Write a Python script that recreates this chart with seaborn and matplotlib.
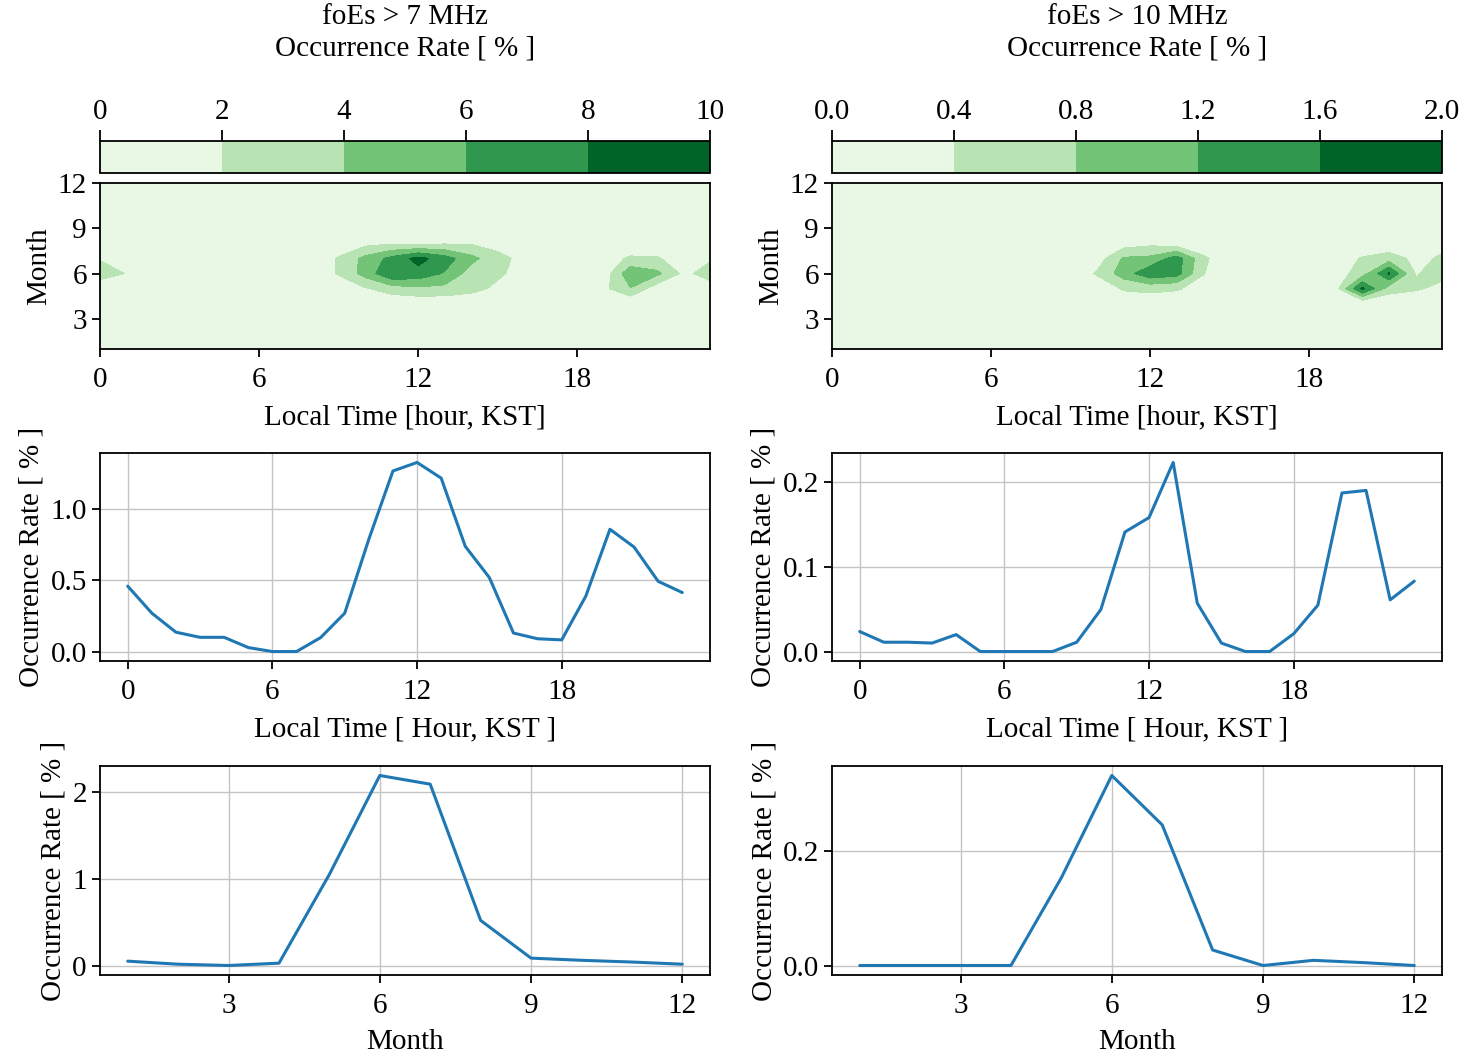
import matplotlib
matplotlib.use("Agg")
import matplotlib.pyplot as plt
import seaborn as sns
import numpy as np

# 축 값
hours = list(range(24))
months = list(range(1, 13))

# foEs > 7 MHz, month x hour occurrence rate [%] (rows = month 1..12, cols = hour 0..23)
rate_7mhz_grid = [
    [0.3, 0.2, 0.1, 0.0, 0.0, 0.0, 0.0, 0.0, 0.0, 0.1, 0.2, 0.3, 0.3, 0.2, 0.2, 0.1, 0.0, 0.0, 0.0, 0.1, 0.2, 0.2, 0.2, 0.2],
    [0.2, 0.1, 0.0, 0.0, 0.0, 0.0, 0.0, 0.0, 0.0, 0.0, 0.1, 0.2, 0.2, 0.2, 0.1, 0.0, 0.0, 0.0, 0.0, 0.0, 0.1, 0.1, 0.1, 0.1],
    [0.1, 0.0, 0.0, 0.0, 0.0, 0.0, 0.0, 0.0, 0.0, 0.0, 0.1, 0.1, 0.1, 0.1, 0.1, 0.0, 0.0, 0.0, 0.0, 0.0, 0.0, 0.1, 0.1, 0.1],
    [0.2, 0.1, 0.0, 0.0, 0.0, 0.0, 0.0, 0.0, 0.0, 0.1, 0.5, 0.4, 0.4, 0.5, 0.6, 0.3, 0.1, 0.0, 0.0, 0.1, 0.1, 0.2, 0.2, 0.2],
    [1.1, 0.6, 0.2, 0.1, 0.1, 0.0, 0.0, 0.0, 0.2, 0.6, 1.8, 3.0, 3.6, 3.4, 2.6, 1.6, 0.5, 0.1, 0.1, 1.5, 3.9, 0.8, 0.6, 1.2],
    [2.6, 1.95, 0.5, 0.4, 0.4, 0.1, 0.0, 0.1, 0.4, 2.2, 4.8, 7.8, 7.3, 5.8, 3.0, 2.3, 1.3, 0.4, 0.3, 0.8, 5.5, 4.5, 1.56, 2.7],
    [1.9, 0.8, 0.3, 0.2, 0.2, 0.1, 0.0, 0.0, 0.4, 2.2, 4.6, 6.6, 8.7, 6.95, 4.6, 2.6, 1.4, 0.5, 0.4, 1.0, 2.3, 2.2, 1.0, 1.8],
    [0.6, 0.3, 0.1, 0.0, 0.0, 0.0, 0.0, 0.0, 0.2, 0.6, 1.4, 1.8, 1.5, 1.8, 1.8, 1.3, 0.6, 0.2, 0.2, 0.3, 0.5, 0.6, 0.4, 0.5],
    [0.2, 0.1, 0.0, 0.0, 0.0, 0.0, 0.0, 0.0, 0.0, 0.1, 0.2, 0.3, 0.3, 0.3, 0.2, 0.1, 0.0, 0.0, 0.0, 0.1, 0.1, 0.1, 0.1, 0.1],
    [0.1, 0.0, 0.0, 0.0, 0.0, 0.0, 0.0, 0.0, 0.0, 0.0, 0.1, 0.2, 0.2, 0.1, 0.1, 0.0, 0.0, 0.0, 0.0, 0.0, 0.1, 0.1, 0.1, 0.1],
    [0.1, 0.0, 0.0, 0.0, 0.0, 0.0, 0.0, 0.0, 0.0, 0.0, 0.1, 0.1, 0.1, 0.1, 0.0, 0.0, 0.0, 0.0, 0.0, 0.0, 0.0, 0.1, 0.1, 0.1],
    [0.1, 0.0, 0.0, 0.0, 0.0, 0.0, 0.0, 0.0, 0.0, 0.0, 0.0, 0.1, 0.1, 0.1, 0.0, 0.0, 0.0, 0.0, 0.0, 0.0, 0.0, 0.0, 0.1, 0.1],
]

# foEs > 10 MHz
rate_10mhz_grid = [
    [0.02, 0.0, 0.0, 0.0, 0.0, 0.0, 0.0, 0.0, 0.0, 0.0, 0.0, 0.0, 0.0, 0.0, 0.0, 0.0, 0.0, 0.0, 0.0, 0.0, 0.0, 0.0, 0.0, 0.0],
    [0.0, 0.0, 0.0, 0.0, 0.0, 0.0, 0.0, 0.0, 0.0, 0.0, 0.0, 0.0, 0.0, 0.0, 0.0, 0.0, 0.0, 0.0, 0.0, 0.0, 0.0, 0.0, 0.0, 0.0],
    [0.0, 0.0, 0.0, 0.0, 0.0, 0.0, 0.0, 0.0, 0.0, 0.0, 0.0, 0.0, 0.0, 0.0, 0.0, 0.0, 0.0, 0.0, 0.0, 0.0, 0.0, 0.0, 0.0, 0.0],
    [0.0, 0.0, 0.0, 0.0, 0.0, 0.0, 0.0, 0.0, 0.0, 0.0, 0.05, 0.1, 0.15, 0.1, 0.05, 0.0, 0.0, 0.0, 0.0, 0.05, 0.0, 0.05, 0.1, 0.1],
    [0.05, 0.0, 0.0, 0.0, 0.0, 0.0, 0.0, 0.0, 0.0, 0.02, 0.1, 0.45, 0.5, 0.45, 0.2, 0.05, 0.0, 0.0, 0.05, 0.26, 1.7, 0.6, 0.45, 0.3],
    [0.1, 0.05, 0.05, 0.05, 0.1, 0.0, 0.0, 0.0, 0.0, 0.05, 0.45, 1.0, 1.5, 1.35, 0.42, 0.05, 0.0, 0.0, 0.05, 0.2, 0.6, 1.65, 0.38, 0.5],
    [0.1, 0.05, 0.05, 0.05, 0.1, 0.0, 0.0, 0.0, 0.0, 0.02, 0.2, 0.85, 0.9, 1.4, 0.5, 0.05, 0.0, 0.0, 0.05, 0.1, 0.45, 0.6, 0.3, 0.45],
    [0.05, 0.0, 0.0, 0.0, 0.0, 0.0, 0.0, 0.0, 0.0, 0.0, 0.05, 0.2, 0.3, 0.15, 0.05, 0.0, 0.0, 0.0, 0.0, 0.05, 0.0, 0.1, 0.1, 0.3],
    [0.0, 0.0, 0.0, 0.0, 0.0, 0.0, 0.0, 0.0, 0.0, 0.0, 0.0, 0.0, 0.0, 0.0, 0.0, 0.0, 0.0, 0.0, 0.0, 0.0, 0.0, 0.0, 0.0, 0.0],
    [0.0, 0.0, 0.0, 0.0, 0.0, 0.0, 0.0, 0.0, 0.0, 0.0, 0.0, 0.0, 0.0, 0.0, 0.0, 0.0, 0.0, 0.0, 0.0, 0.0, 0.0, 0.0, 0.0, 0.0],
    [0.0, 0.0, 0.0, 0.0, 0.0, 0.0, 0.0, 0.0, 0.0, 0.0, 0.0, 0.0, 0.0, 0.0, 0.0, 0.0, 0.0, 0.0, 0.0, 0.0, 0.0, 0.0, 0.0, 0.0],
    [0.0, 0.0, 0.0, 0.0, 0.0, 0.0, 0.0, 0.0, 0.0, 0.0, 0.0, 0.0, 0.0, 0.0, 0.0, 0.0, 0.0, 0.0, 0.0, 0.0, 0.0, 0.0, 0.0, 0.0],
]

# 시간별 / 월별 평균 발생률
hour_rate_7mhz = [0.46, 0.27, 0.136, 0.10, 0.10, 0.028, 0.0, 0.0, 0.098, 0.27, 0.79, 1.27,
                  1.33, 1.22, 0.74, 0.52, 0.13, 0.09, 0.082, 0.39, 0.86, 0.735, 0.494, 0.415]
hour_rate_10mhz = [0.0236, 0.011, 0.011, 0.010, 0.020, 0.0, 0.0, 0.0, 0.0, 0.011, 0.0495, 0.141,
                   0.158, 0.223, 0.057, 0.010, 0.0, 0.0, 0.021, 0.0546, 0.187, 0.19, 0.061, 0.083]
month_rate_7mhz = [0.05, 0.015, 0.0, 0.027, 1.05, 2.19, 2.09, 0.52, 0.085, 0.06, 0.04, 0.015]
month_rate_10mhz = [0.0, 0.0, 0.0, 0.0, 0.153, 0.331, 0.245, 0.027, 0.0, 0.009, 0.005, 0.0]

levels_7mhz = [0, 2, 4, 6, 8, 10]
levels_10mhz = [0.0, 0.4, 0.8, 1.2, 1.6, 2.0]

titles = ["foEs > 7 MHz", "foEs > 10 MHz"]

sns.set_theme(style="ticks")
plt.rcParams['font.family'] = ['Liberation Serif', 'DejaVu Serif']
plt.rcParams['font.size'] = 21
plt.rcParams['axes.edgecolor'] = 'black'
plt.rcParams['axes.linewidth'] = 1.3
plt.rcParams['xtick.color'] = 'black'
plt.rcParams['ytick.color'] = 'black'
plt.rcParams['text.color'] = 'black'
plt.rcParams['axes.labelcolor'] = 'black'

FS = 21
fig = plt.figure(figsize=(14.61, 10.56), dpi=100)
W, H = 1461.0, 1056.0


def px_axes(x0, y0, x1, y1):
    return fig.add_axes([x0 / W, 1 - y1 / H, (x1 - x0) / W, (y1 - y0) / H])


cmap = sns.color_palette("Greens", as_cmap=True)
col_x = [(100, 710), (832, 1442)]
grids = [rate_7mhz_grid, rate_10mhz_grid]
level_sets = [levels_7mhz, levels_10mhz]
hour_sets = [hour_rate_7mhz, hour_rate_10mhz]
month_sets = [month_rate_7mhz, month_rate_10mhz]
hour_yticks = [[0.0, 0.5, 1.0], [0.0, 0.1, 0.2]]
month_yticks = [[0, 1, 2], [0.0, 0.2]]
month_fmt = ['{:.0f}', '{:.1f}']

for i in range(2):
    x0, x1 = col_x[i]
    cx = (x0 + x1) / 2

    fig.text(cx / W, 1 - 17 / H, titles[i], ha='center', va='center', fontsize=FS)
    fig.text(cx / W, 1 - 48 / H, "Occurrence Rate [ % ]", ha='center', va='center', fontsize=FS)

    # contour map
    ax = px_axes(x0, 183, x1, 349)
    cs = ax.contourf(hours, months, np.array(grids[i]), levels=level_sets[i], cmap=cmap)
    ax.set_xlim(0, 23)
    ax.set_ylim(1, 12)
    ax.set_xticks([0, 6, 12, 18])
    ax.set_yticks([3, 6, 9, 12])
    ax.set_xlabel("Local Time [hour, KST]", fontsize=FS, labelpad=8)
    ax.set_ylabel("Month", fontsize=FS)
    ax.tick_params(direction='out', length=6, width=1.3, labelsize=FS)
    ax.tick_params(axis='x', pad=7)

    cax = px_axes(x0, 141, x1, 173)
    cb = fig.colorbar(cs, cax=cax, orientation='horizontal', ticks=level_sets[i])
    cax.xaxis.set_ticks_position('top')
    cax.tick_params(direction='out', length=8, width=1.3, labelsize=FS)
    cb.outline.set_linewidth(1.3)
    cb.outline.set_edgecolor('black')

    # hourly profile
    ax2 = px_axes(x0, 453, x1, 661)
    sns.lineplot(x=hours, y=hour_sets[i], ax=ax2, color='#1f77b4', linewidth=2.2)
    ax2.set_xticks([0, 6, 12, 18])
    ax2.set_yticks(hour_yticks[i])
    ax2.set_yticklabels(['{:.1f}'.format(v) for v in hour_yticks[i]])
    ax2.grid(True, color='#c4c4c4', linewidth=1.0)
    ax2.set_xlabel("Local Time [ Hour, KST ]", fontsize=FS, labelpad=8)
    ax2.set_ylabel("Occurrence Rate [ % ]", fontsize=FS)
    ax2.tick_params(direction='out', length=6, width=1.3, labelsize=FS)
    ax2.tick_params(axis='x', pad=7)

    # monthly profile
    ax3 = px_axes(x0, 766, x1, 975)
    sns.lineplot(x=months, y=month_sets[i], ax=ax3, color='#1f77b4', linewidth=2.2)
    ax3.set_xticks([3, 6, 9, 12])
    ax3.set_yticks(month_yticks[i])
    ax3.set_yticklabels([month_fmt[i].format(v) for v in month_yticks[i]])
    ax3.grid(True, color='#c4c4c4', linewidth=1.0)
    ax3.set_xlabel("Month", fontsize=FS, labelpad=7)
    ax3.set_ylabel("Occurrence Rate [ % ]", fontsize=FS)
    ax3.tick_params(direction='out', length=6, width=1.3, labelsize=FS)
    ax3.tick_params(axis='x', pad=7)

fig.savefig("out.png", dpi=100)
